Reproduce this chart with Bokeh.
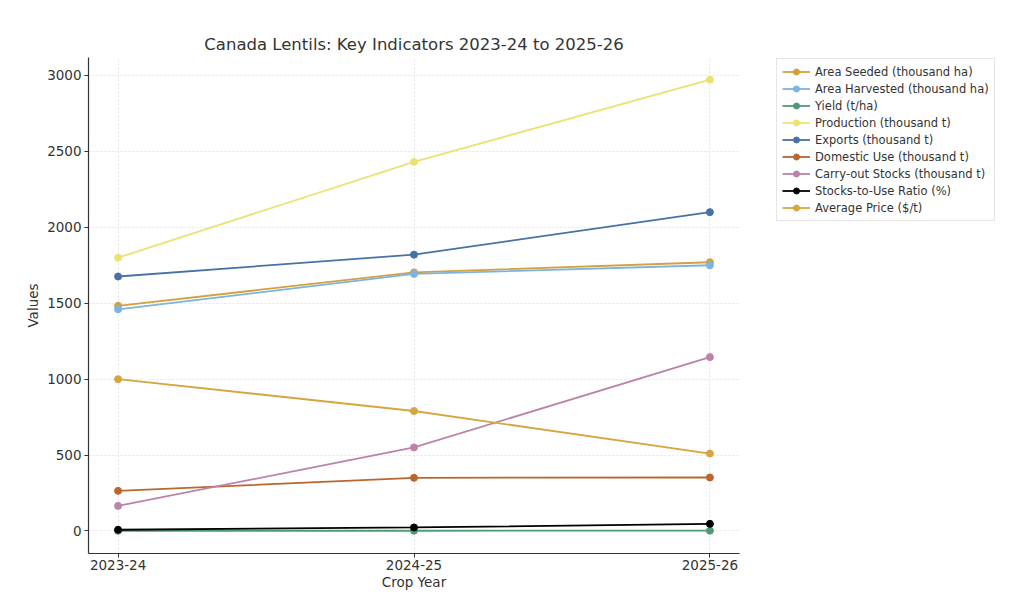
from bokeh.plotting import figure
from bokeh.models import Range1d, FixedTicker, Legend, LegendItem
from bokeh.embed import file_html
from bokeh.resources import INLINE

years = ["2023-24", "2024-25", "2025-26"]
area_seeded = [1483, 1703, 1770]
area_harvested = [1460, 1693, 1750]
yield_t_ha = [1.22, 1.43, 1.69]
production = [1800, 2431, 2972]
exports = [1676, 1820, 2100]
domestic_use = [264, 350, 352]
carry_out = [165, 550, 1145]
stocks_to_use = [8, 23, 47]
avg_price = [1000, 790, 510]

series = [
    ("Area Seeded (thousand ha)", area_seeded, "#d4a03c"),
    ("Area Harvested (thousand ha)", area_harvested, "#7db3df"),
    ("Yield (t/ha)", yield_t_ha, "#4f9a76"),
    ("Production (thousand t)", production, "#ebe273"),
    ("Exports (thousand t)", exports, "#4672a8"),
    ("Domestic Use (thousand t)", domestic_use, "#b9662f"),
    ("Carry-out Stocks (thousand t)", carry_out, "#bb82aa"),
    ("Stocks-to-Use Ratio (%)", stocks_to_use, "#000000"),
    ("Average Price ($/t)", avg_price, "#d6a63e"),
]

FONT = "DejaVu Sans"
TXT = "#333333"

p = figure(width=1000, height=585, output_backend="svg", toolbar_location=None,
           x_range=Range1d(-0.1, 2.1), y_range=Range1d(-148.5, 3118.5),
           min_border_left=88, min_border_top=57, min_border_bottom=30,
           title="Canada Lentils: Key Indicators 2023-24 to 2025-26")
p.frame_width = 651
p.frame_height = 496

p.title.align = "center"
p.title.text_font = FONT
p.title.text_font_size = "16.5px"
p.title.text_font_style = "normal"
p.title.text_color = TXT
p.title.standoff = 7

xs = list(range(len(years)))
items = []
for name, vals, col in series:
    r1 = p.line(xs, vals, line_color=col, line_width=1.8)
    r2 = p.scatter(xs, vals, size=7, fill_color=col, line_color=col)
    items.append(LegendItem(label=name, renderers=[r1, r2]))

p.xaxis.ticker = FixedTicker(ticks=xs)
p.xaxis.major_label_overrides = {i: y for i, y in enumerate(years)}
p.yaxis.ticker = FixedTicker(ticks=[0, 500, 1000, 1500, 2000, 2500, 3000])
p.xaxis.axis_label = "Crop Year"
p.yaxis.axis_label = "Values"

for ax in (p.xaxis, p.yaxis):
    ax.axis_label_text_font = FONT
    ax.axis_label_text_font_size = "13.5px"
    ax.axis_label_text_font_style = "normal"
    ax.axis_label_text_color = TXT
    ax.major_label_text_font = FONT
    ax.major_label_text_font_size = "13.5px"
    ax.major_label_text_color = TXT
    ax.axis_line_color = "#333333"
    ax.axis_line_width = 1.2
    ax.major_tick_line_color = "#333333"
    ax.major_tick_out = 4
    ax.major_tick_in = 0
    ax.minor_tick_line_color = None
    ax.axis_label_standoff = 3
    ax.major_label_standoff = 3
p.xaxis.axis_label_standoff = 1
p.xaxis.major_label_standoff = 2

p.grid.grid_line_color = "#dddddd"
p.grid.grid_line_dash = "2 2"
p.grid.grid_line_width = 0.8
p.outline_line_color = None

legend = Legend(items=items, location=(37, 332))
legend.label_text_font = FONT
legend.label_text_font_size = "11.5px"
legend.label_text_color = TXT
legend.glyph_width = 28
legend.glyph_height = 15
legend.label_height = 15
legend.spacing = 2
legend.padding = 5
legend.margin = 0
legend.label_standoff = 5
legend.border_line_color = "#cccccc"
legend.border_line_width = 1
legend.background_fill_alpha = 1
p.add_layout(legend, "right")
p.min_border_right = 10

open("out.html", "w").write(file_html(p, INLINE))
